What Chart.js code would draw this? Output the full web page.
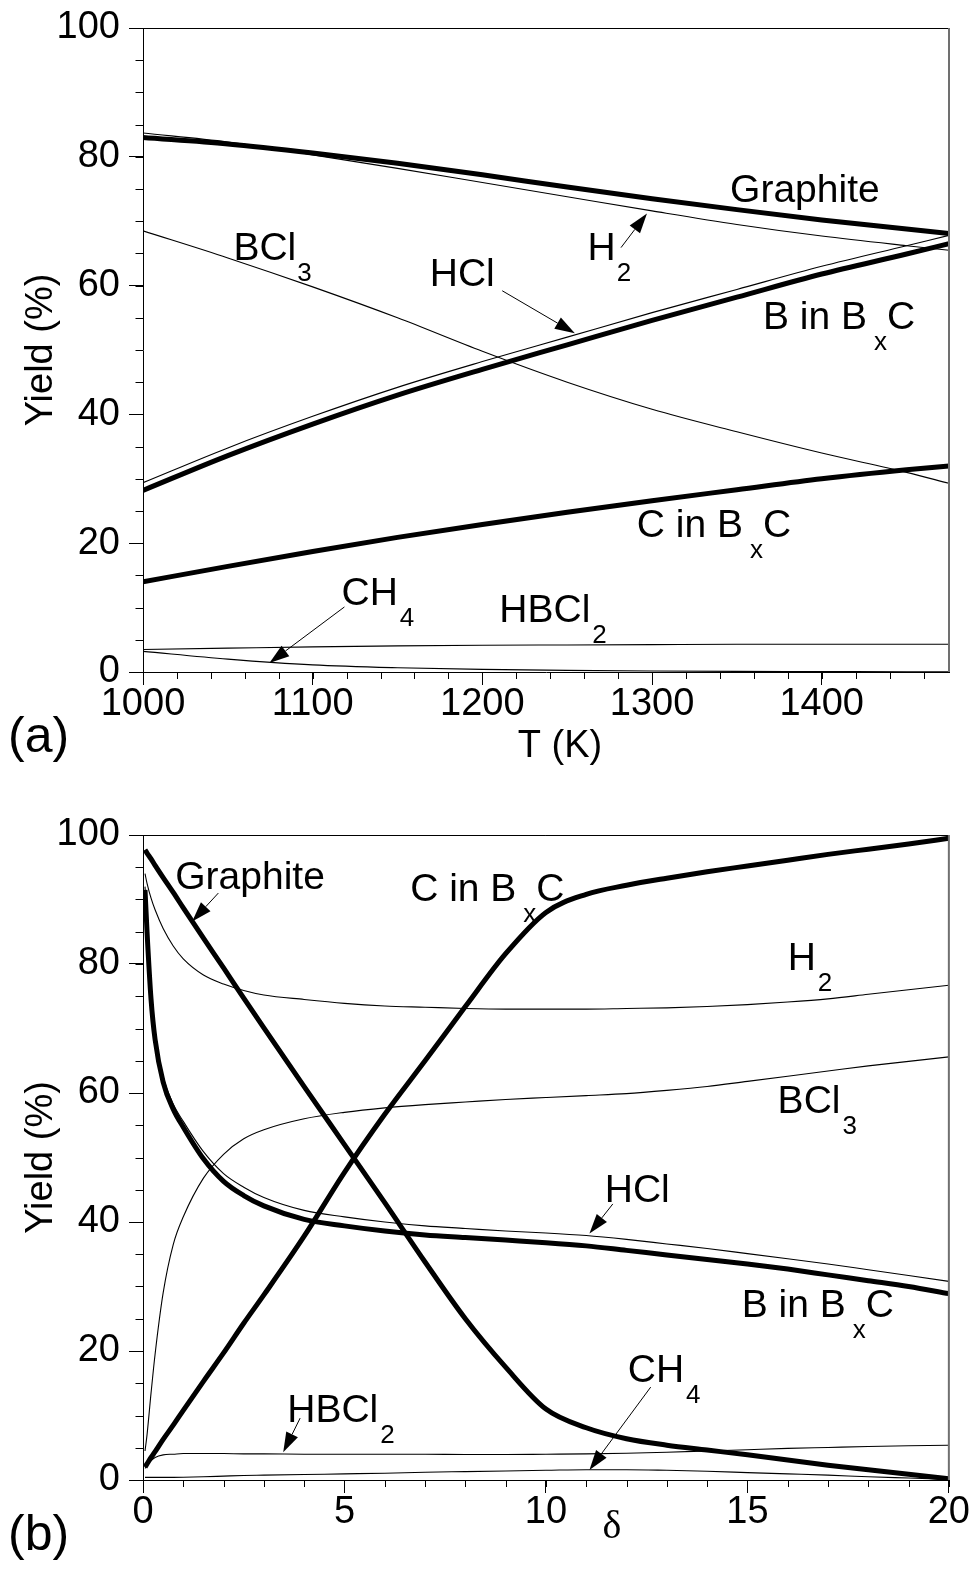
<!DOCTYPE html>
<html>
<head>
<meta charset="utf-8">
<script src="https://cdn.jsdelivr.net/npm/chart.js@4.4.1/dist/chart.umd.min.js"></script>
<style>
  html, body { margin: 0; padding: 0; background: #fff; }
  #wrap { position: relative; width: 971px; height: 1573px; }
  canvas { position: absolute; left: 0; }
</style>
</head>
<body>
<div id="wrap">
  <canvas id="chartT" width="971" height="790" style="top:0px"></canvas>
  <canvas id="chartD" width="971" height="783" style="top:790px"></canvas>
</div>
<script>
// ---------- (a) equilibrium yields versus temperature ----------
const T_K       = [1000, 1050, 1100, 1150, 1200, 1250, 1300, 1350, 1400, 1450, 1475];
const A_GRAPHITE = [83.0, 82.0, 80.6, 79.0, 77.2, 75.3, 73.5, 71.8, 70.2, 68.8, 68.1];
const A_H2       = [83.7, 82.3, 80.3, 78.2, 76.0, 73.8, 71.6, 69.5, 67.7, 66.2, 65.5];
const A_HCL      = [29.4, 34.8, 39.7, 44.2, 48.2, 52.0, 55.8, 59.4, 63.0, 66.2, 67.8];
const A_B_BXC    = [28.2, 33.6, 38.5, 43.0, 47.0, 50.8, 54.6, 58.2, 61.8, 64.9, 66.5];
const A_BCL3     = [68.5, 64.3, 59.8, 55.0, 49.8, 45.0, 40.8, 37.3, 34.0, 31.0, 29.3];
const A_C_BXC    = [14.0, 16.4, 18.7, 20.9, 22.9, 24.8, 26.6, 28.3, 30.0, 31.4, 32.0];
const A_HBCL2    = [3.5, 3.7, 3.9, 4.05, 4.15, 4.2, 4.25, 4.3, 4.3, 4.3, 4.3];
const A_CH4      = [3.2, 2.0, 1.1, 0.65, 0.4, 0.25, 0.15, 0.1, 0.08, 0.05, 0.05];

// ---------- (b) equilibrium yields versus delta ----------
const DELTA      = [0.05, 0.1, 0.2, 0.3, 0.5, 0.75, 1, 1.5, 2, 2.5, 3, 4, 5, 6, 7, 8, 9, 10, 11, 12, 13, 14, 15, 16, 17, 18, 19, 20];
const B_GRAPHITE = [97.7, 97.2, 96.3, 95.3, 93.4, 91.1, 88.7, 84.0, 79.4, 74.7, 70.1, 61.0, 52.0, 43.0, 33.8, 25.0, 17.5, 11.0, 8.1, 6.4, 5.4, 4.65, 3.9, 3.1, 2.3, 1.6, 0.9, 0.2];
const B_C_BXC    = [2.0, 2.5, 3.5, 4.4, 6.3, 8.5, 10.8, 15.3, 19.7, 24.3, 28.7, 37.8, 47.7, 56.7, 65.0, 73.4, 81.6, 88.0, 90.8, 92.2, 93.3, 94.3, 95.2, 96.1, 97.0, 97.8, 98.6, 99.5];
const B_B_BXC    = [91.5, 85.0, 74.5, 68.3, 61.7, 57.5, 54.7, 49.8, 46.3, 44.1, 42.5, 40.4, 39.4, 38.6, 38.0, 37.6, 37.2, 36.8, 36.3, 35.6, 34.9, 34.2, 33.5, 32.7, 31.8, 30.9, 30.0, 28.9];
const B_HCL      = [92.0, 85.7, 75.2, 69.0, 62.5, 58.3, 55.6, 50.9, 47.5, 45.4, 43.8, 41.8, 40.8, 40.0, 39.4, 39.0, 38.6, 38.3, 37.9, 37.3, 36.6, 35.9, 35.1, 34.3, 33.5, 32.6, 31.7, 30.8];
const B_H2       = [94.0, 92.5, 90.2, 88.4, 85.5, 82.8, 80.8, 78.3, 76.9, 75.9, 75.2, 74.5, 73.9, 73.5, 73.3, 73.1, 73.0, 73.0, 73.0, 73.1, 73.2, 73.4, 73.7, 74.1, 74.6, 75.3, 76.0, 76.7];
const B_BCL3     = [4.5, 7.0, 13.5, 19.5, 29.0, 36.5, 40.8, 46.8, 50.5, 52.9, 54.3, 56.0, 57.0, 57.7, 58.2, 58.6, 59.0, 59.3, 59.6, 59.9, 60.4, 61.0, 61.8, 62.6, 63.4, 64.2, 64.9, 65.6];
const B_HBCL2    = [1.8, 2.3, 3.0, 3.5, 3.9, 4.0, 4.1, 4.1, 4.1, 4.05, 4.05, 4.0, 4.0, 4.0, 4.0, 3.95, 3.95, 4.0, 4.05, 4.15, 4.3, 4.5, 4.7, 4.9, 5.05, 5.2, 5.3, 5.4];
const B_CH4      = [0.4, 0.4, 0.4, 0.4, 0.4, 0.4, 0.42, 0.5, 0.6, 0.7, 0.75, 0.85, 0.95, 1.05, 1.2, 1.3, 1.4, 1.5, 1.6, 1.6, 1.5, 1.35, 1.15, 0.95, 0.75, 0.5, 0.3, 0.1];

// ---------- axis ticks ----------
const A_X_TICKS = [1000, 1100, 1200, 1300, 1400];
const B_X_TICKS = [0, 5, 10, 15, 20];
const Y_TICKS   = [0, 20, 40, 60, 80, 100];

const SANS  = '"Liberation Sans", Arial, Helvetica, sans-serif';
const SERIF = '"Liberation Serif", "Times New Roman", serif';

function line(xs, ys, thick) {
  return {
    data: xs.map((x, i) => ({ x: x, y: ys[i] })),
    showLine: true,
    borderColor: '#000',
    backgroundColor: '#000',
    borderWidth: thick ? 5 : 1.1,
    pointRadius: 0,
    fill: false,
    cubicInterpolationMode: 'monotone',
    borderJoinStyle: 'round'
  };
}

// label written as pieces, subscript pieces flagged with sub:true
function drawRich(ctx, parts, x, y) {
  let cx = x;
  ctx.textAlign = 'left';
  ctx.textBaseline = 'alphabetic';
  for (const p of parts) {
    if (p.sub) {
      ctx.font = '26px ' + SANS;
      cx += (p.gap !== undefined ? p.gap : 2);
      ctx.fillText(p.t, cx, y + 21);
      cx += ctx.measureText(p.t).width;
    } else {
      ctx.font = '39px ' + SANS;
      ctx.fillText(p.t, cx, y);
      cx += ctx.measureText(p.t).width;
    }
  }
}

function drawArrow(ctx, x0, y0, x1, y1) {
  const ang = Math.atan2(y1 - y0, x1 - x0);
  const L = 20, W = 6.5;
  const bx = x1 - L * Math.cos(ang), by = y1 - L * Math.sin(ang);
  ctx.lineWidth = 1;
  ctx.beginPath(); ctx.moveTo(x0, y0); ctx.lineTo(bx, by); ctx.stroke();
  ctx.beginPath();
  ctx.moveTo(x1, y1);
  ctx.lineTo(bx + W * Math.sin(ang), by - W * Math.cos(ang));
  ctx.lineTo(bx - W * Math.sin(ang), by + W * Math.cos(ang));
  ctx.closePath(); ctx.fill();
}

// frame, minor ticks, curve labels, arrows, panel letter and x-axis title
const decor = {
  id: 'decor',
  afterDraw(chart, args, o) {
    const { ctx, chartArea: ca } = chart;
    const xs = chart.scales.x, ys = chart.scales.y;
    ctx.save();
    ctx.strokeStyle = '#000';
    ctx.fillStyle = '#000';
    // top and right edges of the frame
    ctx.lineWidth = 1;
    ctx.beginPath(); ctx.moveTo(ca.left, ca.top + 0.5); ctx.lineTo(ca.right, ca.top + 0.5); ctx.stroke();
    ctx.strokeStyle = '#707070';
    ctx.lineWidth = 2;
    ctx.beginPath(); ctx.moveTo(ca.right, ca.top); ctx.lineTo(ca.right, ca.bottom); ctx.stroke();
    // minor ticks
    ctx.strokeStyle = '#000';
    ctx.lineWidth = 1;
    ctx.beginPath();
    for (let v = xs.min; v <= xs.max + 1e-9; v += o.xMinor) {
      const px = Math.round(xs.getPixelForValue(v)) + 0.5;
      ctx.moveTo(px, ca.bottom); ctx.lineTo(px, ca.bottom + 7);
    }
    for (let v = ys.min; v <= ys.max + 1e-9; v += o.yMinor) {
      const py = Math.round(ys.getPixelForValue(v)) + 0.5;
      ctx.moveTo(ca.left, py); ctx.lineTo(ca.left - 7.5, py);
    }
    ctx.stroke();
    // curve labels
    for (const lb of o.labels) {
      drawRich(ctx, lb.parts, xs.getPixelForValue(lb.x), ys.getPixelForValue(lb.y));
    }
    // arrows
    for (const a of o.arrows) {
      drawArrow(ctx, xs.getPixelForValue(a.from[0]), ys.getPixelForValue(a.from[1]),
                     xs.getPixelForValue(a.to[0]), ys.getPixelForValue(a.to[1]));
    }
    // panel letter
    ctx.font = '50px ' + SANS;
    ctx.textAlign = 'left';
    ctx.textBaseline = 'alphabetic';
    ctx.fillText(o.panel, 8, o.panelY);
    // x-axis title
    ctx.font = o.titleFont;
    ctx.textAlign = 'center';
    ctx.fillText(o.xTitle, o.titleX, o.titleY);
    ctx.restore();
  }
};

function makeChart(id, cfg) {
  const H = cfg.height;
  return new Chart(document.getElementById(id), {
    type: 'scatter',
    data: { datasets: cfg.datasets },
    options: {
      responsive: false,
      animation: false,
      events: [],
      layout: { padding: { left: 0, top: cfg.top, right: 22, bottom: 0 } },
      plugins: { legend: { display: false }, tooltip: { enabled: false }, decor: cfg.decor },
      scales: {
        x: {
          type: 'linear', min: cfg.xmin, max: cfg.xmax,
          afterBuildTicks: s => { s.ticks = cfg.xTicks.map(v => ({ value: v })); },
          afterFit: s => { s.height = H - cfg.bottom; },
          ticks: { callback: v => String(v), color: '#000', font: { family: SANS, size: 38, lineHeight: 1 }, padding: 1, maxRotation: 0, autoSkip: false },
          grid: { display: true, drawOnChartArea: false, drawTicks: true, tickLength: 13, color: '#000', lineWidth: 1 },
          border: { display: true, color: '#000', width: 1 }
        },
        y: {
          type: 'linear', min: 0, max: 100,
          afterBuildTicks: s => { s.ticks = Y_TICKS.map(v => ({ value: v })); },
          afterFit: s => { s.width = 143; },
          ticks: { callback: v => String(v), color: '#000', font: { family: SANS, size: 38, lineHeight: 1 }, padding: 9, autoSkip: false },
          grid: { display: true, drawOnChartArea: false, drawTicks: true, tickLength: 14, color: '#000', lineWidth: 1 },
          border: { display: true, color: '#000', width: 1 },
          title: { display: true, text: 'Yield (%)', color: '#000', font: { family: SANS, size: 38, lineHeight: 1.2 }, padding: { top: 19, bottom: 0 } }
        }
      }
    },
    plugins: [decor]
  });
}

const sub = (t, gap) => ({ t: t, sub: true, gap: gap });
const txt = t => ({ t: t });

makeChart('chartT', {
  height: 790, top: 27, bottom: 672,
  xmin: 1000, xmax: 1475, xTicks: A_X_TICKS,
  datasets: [
    line(T_K, A_GRAPHITE, true),
    line(T_K, A_B_BXC, true),
    line(T_K, A_C_BXC, true),
    line(T_K, A_H2, false),
    line(T_K, A_HCL, false),
    line(T_K, A_BCL3, false),
    line(T_K, A_HBCL2, false),
    line(T_K, A_CH4, false)
  ],
  decor: {
    xMinor: 20, yMinor: 5,
    panel: '(a)', panelY: 752,
    xTitle: 'T (K)', titleFont: '38px ' + SANS, titleX: 560, titleY: 757,
    labels: [
      { parts: [txt('Graphite')], x: 1346, y: 73.0 },
      { parts: [txt('H'), sub('2', 1)], x: 1262, y: 63.9 },
      { parts: [txt('BCl'), sub('3', 1)], x: 1053.3, y: 63.9 },
      { parts: [txt('HCl')], x: 1169, y: 60.0 },
      { parts: [txt('B in B'), sub('x', 7), txt('C')], x: 1365.4, y: 53.3 },
      { parts: [txt('C in B'), sub('x', 7), txt('C')], x: 1291, y: 20.9 },
      { parts: [txt('CH'), sub('4', 2)], x: 1117, y: 10.4 },
      { parts: [txt('HBCl'), sub('2', 2)], x: 1210, y: 7.75 }
    ],
    arrows: [
      { from: [1281.7, 65.9], to: [1297, 71.2] },
      { from: [1211.7, 59.2], to: [1254.5, 52.6] },
      { from: [1118.7, 10.1], to: [1074.5, 1.4] }
    ]
  }
});

makeChart('chartD', {
  height: 783, top: 45, bottom: 690,
  xmin: 0, xmax: 20, xTicks: B_X_TICKS,
  datasets: [
    line(DELTA, B_GRAPHITE, true),
    line(DELTA, B_C_BXC, true),
    line(DELTA, B_B_BXC, true),
    line(DELTA, B_HCL, false),
    line(DELTA, B_H2, false),
    line(DELTA, B_BCL3, false),
    line(DELTA, B_HBCL2, false),
    line(DELTA, B_CH4, false)
  ],
  decor: {
    xMinor: 1, yMinor: 5,
    panel: '(b)', panelY: 760,
    xTitle: 'δ', titleFont: '40px ' + SERIF, titleX: 612, titleY: 748,
    labels: [
      { parts: [txt('Graphite')], x: 0.80, y: 91.6 },
      { parts: [txt('C in B'), sub('x', 7), txt('C')], x: 6.63, y: 89.8 },
      { parts: [txt('H'), sub('2', 2)], x: 16.0, y: 79.1 },
      { parts: [txt('BCl'), sub('3', 2)], x: 15.75, y: 56.9 },
      { parts: [txt('HCl')], x: 11.46, y: 43.1 },
      { parts: [txt('B in B'), sub('x', 7), txt('C')], x: 14.86, y: 25.3 },
      { parts: [txt('CH'), sub('4', 2)], x: 12.03, y: 15.2 },
      { parts: [txt('HBCl'), sub('2', 2)], x: 3.58, y: 9.0 }
    ],
    arrows: [
      { from: [1.87, 91.0], to: [1.22, 86.6] },
      { from: [11.66, 42.8], to: [11.08, 38.2] },
      { from: [12.6, 14.4], to: [11.08, 1.55] },
      { from: [3.9, 9.6], to: [3.48, 4.3] }
    ]
  }
});
</script>
</body>
</html>
